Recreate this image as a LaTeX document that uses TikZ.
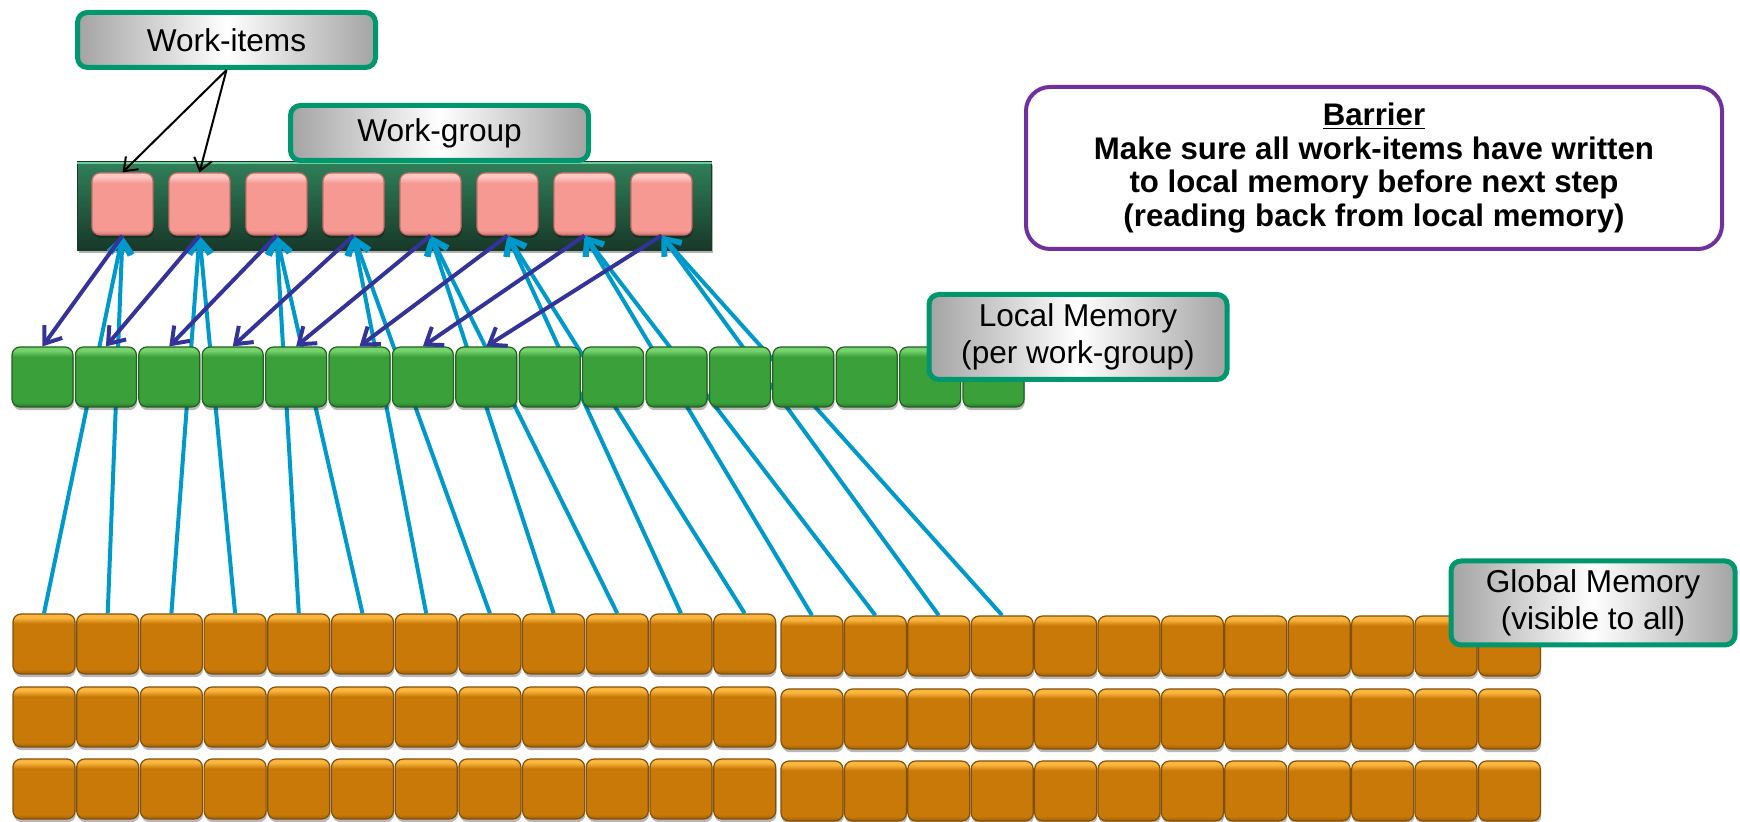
\documentclass[tikz,border=0pt]{standalone}
\usepackage{fontspec}
\setmainfont{Liberation Sans}
\usetikzlibrary{arrows.meta,shadows}
\definecolor{pinkT}{RGB}{255,200,195}
\definecolor{pinkM}{RGB}{247,153,147}
\definecolor{pinkB}{RGB}{214,122,116}
\definecolor{pinkD}{RGB}{196,110,104}
\definecolor{grnT}{RGB}{118,210,108}
\definecolor{grnM}{RGB}{58,160,58}
\definecolor{grnB}{RGB}{40,122,40}
\definecolor{grnD}{RGB}{34,96,34}
\definecolor{orgT}{RGB}{250,182,62}
\definecolor{orgM}{RGB}{200,121,8}
\definecolor{orgB}{RGB}{160,96,8}
\definecolor{orgD}{RGB}{130,80,10}
\definecolor{barT}{RGB}{48,128,90}
\definecolor{barB}{RGB}{24,56,40}
\definecolor{barHi}{RGB}{110,205,155}
\definecolor{labGreen}{RGB}{0,150,110}
\definecolor{barPurple}{RGB}{112,48,160}
\definecolor{darkB}{RGB}{51,51,153}
\definecolor{cyanC}{RGB}{0,153,204}
\pgfdeclareverticalshading{pinkshade}{100bp}{color(0bp)=(pinkB); color(25bp)=(pinkB); color(29bp)=(pinkM); color(67bp)=(pinkM); color(72bp)=(pinkT); color(75bp)=(pinkT); color(100bp)=(pinkT)}
\pgfdeclareverticalshading{grnshade}{100bp}{color(0bp)=(grnB); color(25bp)=(grnB); color(29bp)=(grnM); color(67bp)=(grnM); color(72bp)=(grnT); color(75bp)=(grnT); color(100bp)=(grnT)}
\pgfdeclareverticalshading{orgshade}{100bp}{color(0bp)=(orgB); color(25bp)=(orgB); color(29bp)=(orgM); color(67bp)=(orgM); color(72bp)=(orgT); color(75bp)=(orgT); color(100bp)=(orgT)}
\tikzset{
  sqshadow/.style={drop shadow={shadow xshift=0.4pt, shadow yshift=-1.6pt, opacity=0.28, fill=black}},
  pinkbox/.style={draw=pinkD, line width=0.6pt, rounded corners=4pt, shading=pinkshade, minimum width=30.5pt, minimum height=31pt, inner sep=0pt, sqshadow},
  grnbox/.style={draw=grnD, line width=0.6pt, rounded corners=4pt, shading=grnshade, minimum width=30.5pt, minimum height=30pt, inner sep=0pt, sqshadow},
  orgbox/.style={draw=orgD, line width=0.6pt, rounded corners=4pt, shading=orgshade, minimum width=31pt, minimum height=30pt, inner sep=0pt, sqshadow},
  barbox/.style={draw=barB, line width=0.8pt, top color=barT, bottom color=barB, minimum width=317pt, minimum height=44pt, inner sep=0pt, drop shadow={shadow xshift=0.8pt, shadow yshift=-1.6pt, opacity=0.3, fill=black}},
  labelbox/.style={draw=labGreen, line width=2.5pt, rounded corners=5pt, left color=gray!72, right color=gray!72, middle color=white, minimum width=149pt, inner sep=0pt, font=\fontsize{15.8}{18.5}\selectfont, align=center},
  barrierbox/.style={draw=barPurple, line width=2pt, rounded corners=12pt, fill=white, minimum width=348pt, minimum height=81pt, inner sep=0pt, align=center, font=\bfseries\fontsize{15.6}{16.8}\selectfont},
  cyanarrow/.style={draw=cyanC, line width=2pt, -{Straight Barb[length=7.5pt,width=11pt]}},
  bluearrow/.style={draw=darkB, line width=2pt, -{Straight Barb[length=7.5pt,width=11pt]}},
  blackarrow/.style={draw=black, line width=1pt, -{Straight Barb[length=6pt,width=9pt]}}
}
\begin{document}
\begin{tikzpicture}[x=0.5pt,y=-0.5pt]
\useasboundingbox (0,0) rectangle (1740,822);
% work-group bar with work-items
\node[barbox] (bar) at (394.5,206) {};
\draw[barHi, line width=1.2pt] ([yshift=-0.8pt]bar.north west) -- ([yshift=-0.8pt]bar.north east);
\foreach \i in {0,...,7} {
  \node[pinkbox] (p\i) at ({122.5+77*\i},204) {};
}
% global memory
\foreach \r/\y in {1/644,2/717,3/789} {
  \foreach \c in {0,...,11} {
    \node[orgbox] (o\r-\c) at ({44+63.7*\c},\y) {};
  }
  \foreach \c in {12,...,23} {
    \node[orgbox] (o\r-\c) at ({812+63.4*(\c-12)},{\y+2}) {};
  }
}
% global -> work-items
\foreach \i in {0,...,7} {
  \pgfmathtruncatemacro\a{2*\i}
  \pgfmathtruncatemacro\b{2*\i+1}
  \draw[cyanarrow] (o1-\a.north) -- (p\i.south);
  \draw[cyanarrow] (o1-\b.north) -- (p\i.south);
}
% local memory
\foreach \i in {0,...,15} {
  \node[grnbox] (g\i) at ({42.5+63.4*\i},377) {};
}
% work-items -> local memory
\foreach \i in {0,...,7} {
  \draw[bluearrow] (p\i.south) -- (g\i.north);
}
% labels
\node[labelbox, minimum height=27.5pt] (wi) at (226.5,40) {Work-items};
\node[labelbox, minimum height=27.5pt] (wg) at (439.5,133) {Work-group};
\node[labelbox, minimum height=42.5pt] (lm) at (1078,337) {Local Memory\\(per work-group)};
\node[labelbox, minimum height=42pt, minimum width=142pt] (gm) at (1593,603) {Global Memory\\(visible to all)};
\draw[blackarrow] (wi.south) -- (p0.north);
\draw[blackarrow] (wi.south) -- (p1.north);
% barrier
\node[barrierbox] (barrier) at (1374,168) {\underline{Barrier}\\Make sure all work-items have written\\to local memory before next step\\(reading back from local memory)};
\end{tikzpicture}
\end{document}
